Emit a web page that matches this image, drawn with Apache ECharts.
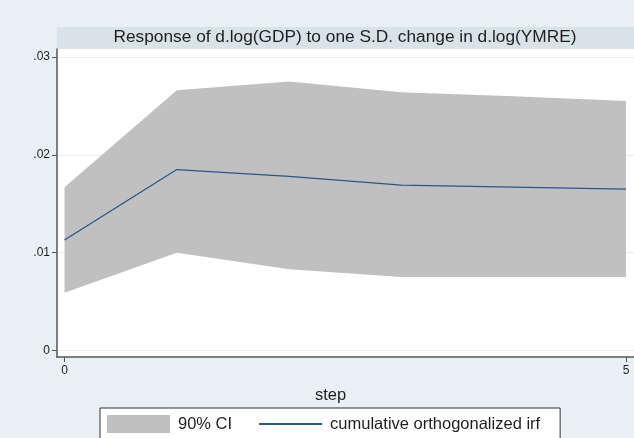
<!DOCTYPE html>
<html>
<head>
<meta charset="utf-8">
<script src="https://cdn.jsdelivr.net/npm/echarts@6/dist/echarts.min.js"></script>
<style>
html,body{margin:0;padding:0;background:#e9f0f3;}
#chart{width:634px;height:438px;}
</style>
</head>
<body>
<div id="chart"></div>
<script>
// ---- data ----
var steps = [0, 1, 2, 3, 4, 5];
var irf = [0.0113, 0.0185, 0.0178, 0.0169, 0.0167, 0.0165];
var ciLower = [0.0059, 0.0100, 0.0083, 0.0075, 0.0075, 0.0075];
var ciUpper = [0.0167, 0.0266, 0.0275, 0.0264, 0.0260, 0.0255];
var yTicks = [0, 0.01, 0.02, 0.03];
var yTickLabels = ['0', '.01', '.02', '.03'];
var xTicks = [0, 5];
var titleText = 'Response of d.log(GDP) to one S.D. change in d.log(YMRE)';
var ciName = '90% CI';
var irfName = 'cumulative orthogonalized irf';
var xName = 'step';

var font = 'Liberation Sans, Arial, Helvetica, sans-serif';

var bandData = steps.map(function (s, i) { return [s, ciLower[i], ciUpper[i]]; });
var irfData = steps.map(function (s, i) { return [s, irf[i]]; });

function renderBand(params, api) {
  if (params.dataIndex !== 0) return null;
  var upperPts = [], lowerPts = [];
  for (var i = 0; i < bandData.length; i++) {
    upperPts.push(api.coord([bandData[i][0], bandData[i][2]]));
    lowerPts.unshift(api.coord([bandData[i][0], bandData[i][1]]));
  }
  return {
    type: 'polygon',
    shape: {points: upperPts.concat(lowerPts)},
    style: {fill: '#c0c0c0', stroke: null}
  };
}

var chart = echarts.init(document.getElementById('chart'), null, {renderer: 'canvas'});
chart.setOption({
  backgroundColor: '#e9f0f3',
  animation: false,
  title: {
    text: titleText,
    left: 345,
    top: 29,
    padding: 0,
    textAlign: 'center',
    textStyle: {fontFamily: font, fontSize: 17.3, fontWeight: 'normal', color: '#1e1e1e'}
  },
  graphic: [{
    type: 'rect',
    z: -1,
    shape: {x: 57, y: 27, width: 577, height: 22},
    style: {fill: '#d8e3e9'}
  }],
  grid: {
    left: 57, right: 0, top: 49, bottom: 81,
    show: true, backgroundColor: '#ffffff', borderWidth: 0,
    containLabel: false
  },
  legend: {
    left: 100, top: 408,
    padding: [7, 20, 9, 7],
    itemGap: 26,
    itemWidth: 63,
    itemHeight: 18,
    backgroundColor: '#ffffff',
    borderColor: '#333333',
    borderWidth: 1,
    borderRadius: 0,
    textStyle: {fontFamily: font, fontSize: 16.5, color: '#1e1e1e', padding: [0, 0, 0, 3]},
    data: [
      {name: ciName, icon: 'rect', itemStyle: {color: '#c0c0c0'}},
      {name: irfName, itemStyle: {opacity: 0}}
    ]
  },
  xAxis: {
    type: 'value',
    min: -0.067, max: 5.071,
    name: xName,
    nameLocation: 'middle',
    nameGap: 30,
    nameTextStyle: {fontFamily: font, fontSize: 16.5, color: '#1e1e1e', padding: [0, 30, 0, 0]},
    axisLine: {show: true, onZero: false, lineStyle: {color: '#555555', width: 1.5}},
    axisTick: {show: true, length: 5, customValues: xTicks, lineStyle: {color: '#555555'}},
    axisLabel: {customValues: xTicks, margin: 8, fontFamily: font, fontSize: 12, color: '#1e1e1e'},
    splitLine: {show: false}
  },
  yAxis: {
    type: 'value',
    min: -0.00067, max: 0.03083,
    axisLine: {show: true, onZero: false, lineStyle: {color: '#555555', width: 1.5}},
    axisTick: {show: true, length: 5, customValues: yTicks, lineStyle: {color: '#555555'}},
    axisLabel: {
      customValues: yTicks, margin: 7, fontFamily: font, fontSize: 12, color: '#1e1e1e',
      formatter: function (v) {
        var i = yTicks.findIndex(function (t) { return Math.abs(t - v) < 1e-9; });
        return i >= 0 ? yTickLabels[i] : '';
      }
    },
    splitLine: {show: false}
  },
  series: [
    {
      name: ciName,
      type: 'custom',
      renderItem: renderBand,
      data: bandData,
      encode: {x: 0, y: [1, 2]},
      itemStyle: {color: '#c0c0c0'},
      silent: true,
      markLine: {
        silent: true, symbol: 'none', label: {show: false},
        lineStyle: {color: '#eceff1', width: 1, type: 'solid'},
        data: yTicks.map(function (t) { return {yAxis: t}; }),
        z: 0
      },
      z: 2
    },
    {
      name: irfName,
      type: 'line',
      data: irfData,
      symbol: 'none',
      lineStyle: {color: '#2a5785', width: 1.3},
      itemStyle: {color: '#2a5785'},
      z: 3
    }
  ]
});
</script>
</body>
</html>
